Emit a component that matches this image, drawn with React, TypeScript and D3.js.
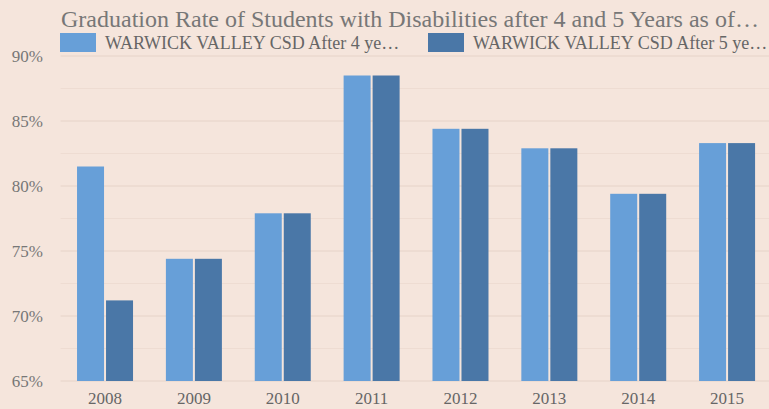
import React from "react";
import * as d3 from "d3";

const years = ["2008", "2009", "2010", "2011", "2012", "2013", "2014", "2015"];
const after4 = [81.5, 74.4, 77.9, 88.5, 84.4, 82.9, 79.4, 83.3];
const after5 = [71.2, 74.4, 77.9, 88.5, 84.4, 82.9, 79.4, 83.3];
const seriesNames = ["WARWICK VALLEY CSD After 4 ye…", "WARWICK VALLEY CSD After 5 ye…"];
const yTicks = [65, 70, 75, 80, 85, 90];
const title = "Graduation Rate of Students with Disabilities after 4 and 5 Years as of…";

const W = 769, H = 409;
const colors = ["#679fd8", "#4a77a7"];
const font = "'Liberation Serif', 'Times New Roman', serif";

export default function App() {
  const left = 60.6, right = 771.5, top = 56, bottom = 381;
  const x = d3.scaleBand<string>().domain(years).range([left, right]).paddingInner(0).paddingOuter(0);
  const y = d3.scaleLinear().domain([65, 90]).range([bottom, top]);
  const minor = d3.range(65, 90.01, 2.5);
  const bw = x.bandwidth();
  const barW = 27, gap = 2;
  const groupW = barW * 2 + gap;
  const series = [after4, after5];
  return (
    <svg width={W} height={H} style={{ position: "absolute", left: 0, top: 0, background: "#f5e5dc" }}>
      <rect x={0} y={0} width={W} height={H} fill="#f5e5dc" />
      {minor.map((v) => (
        <line key={"g" + v} x1={left} x2={W} y1={y(v)} y2={y(v)} stroke={v % 5 === 0 ? "#e6d3c8" : "#eedcd2"} strokeWidth={1} />
      ))}
      {yTicks.map((v) => (
        <text key={"t" + v} x={43} y={y(v) + 6} textAnchor="end" fontFamily={font} fontSize={17} fill="#777">
          {v}%
        </text>
      ))}
      {years.map((yr, i) => {
        const gx = (x(yr) as number) + (bw - groupW) / 2;
        return (
          <g key={yr}>
            {series.map((s, k) => (
              <rect key={k} x={gx + k * (barW + gap)} y={y(s[i])} width={barW} height={bottom - y(s[i])} fill={colors[k]} />
            ))}
            <text x={(x(yr) as number) + bw / 2} y={404} textAnchor="middle" fontFamily={font} fontSize={17} fill="#666">
              {yr}
            </text>
          </g>
        );
      })}
      <text x={61} y={27} fontFamily={font} fontSize={24} fill="#777">{title}</text>
      {seriesNames.map((n, k) => {
        const sx = k === 0 ? 60 : 428;
        return (
          <g key={n}>
            <rect x={sx} y={33} width={36} height={19} fill={colors[k]} />
            <text x={sx + 45} y={49} fontFamily={font} fontSize={18} fill="#666">{n}</text>
          </g>
        );
      })}
    </svg>
  );
}
